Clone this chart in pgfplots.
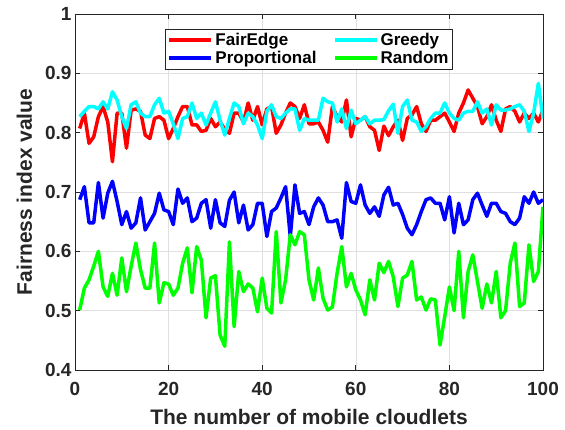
\documentclass[border=0pt]{standalone}
\usepackage{fontspec}
\setmainfont{Liberation Sans}
\usepackage{pgfplots}
\usepackage{pgfplotstable}
\pgfplotsset{compat=1.18}

\definecolor{fered}{RGB}{255,0,0}
\definecolor{grcyan}{RGB}{0,255,255}
\definecolor{prblue}{RGB}{0,0,255}
\definecolor{rdgreen}{RGB}{0,255,0}

% x: number of mobile cloudlets; fe=FairEdge, gr=Greedy, pr=Proportional, rd=Random
\pgfplotstableread{
x   fe    gr    pr    rd
1   0.807 0.827 0.687 0.501
2   0.833 0.836 0.709 0.538
3   0.782 0.844 0.648 0.552
4   0.793 0.844 0.648 0.575
5   0.827 0.840 0.716 0.600
6   0.844 0.852 0.656 0.540
7   0.818 0.840 0.698 0.524
8   0.751 0.869 0.718 0.563
9   0.833 0.855 0.684 0.526
10  0.833 0.827 0.645 0.589
11  0.774 0.807 0.667 0.532
12  0.838 0.847 0.639 0.575
13  0.840 0.852 0.648 0.614
14  0.836 0.833 0.690 0.569
15  0.796 0.827 0.636 0.538
16  0.790 0.827 0.650 0.538
17  0.824 0.847 0.664 0.614
18  0.827 0.858 0.698 0.513
19  0.821 0.833 0.670 0.547
20  0.790 0.836 0.667 0.545
21  0.807 0.815 0.645 0.526
22  0.827 0.790 0.705 0.538
23  0.844 0.824 0.681 0.580
24  0.844 0.827 0.690 0.606
25  0.813 0.850 0.650 0.530
26  0.813 0.824 0.656 0.608
27  0.802 0.833 0.681 0.585
28  0.804 0.813 0.687 0.488
29  0.824 0.833 0.639 0.555
30  0.810 0.852 0.687 0.559
31  0.818 0.821 0.648 0.459
32  0.806 0.796 0.642 0.440
33  0.799 0.824 0.686 0.616
34  0.833 0.850 0.700 0.473
35  0.833 0.844 0.648 0.566
36  0.818 0.815 0.678 0.532
37  0.850 0.833 0.636 0.545
38  0.821 0.827 0.645 0.538
39  0.844 0.813 0.681 0.498
40  0.813 0.790 0.681 0.555
41  0.840 0.836 0.625 0.504
42  0.844 0.847 0.667 0.496
43  0.799 0.827 0.673 0.633
44  0.813 0.824 0.690 0.513
45  0.833 0.833 0.709 0.552
46  0.850 0.840 0.625 0.628
47  0.844 0.840 0.712 0.611
48  0.824 0.804 0.664 0.633
49  0.847 0.824 0.667 0.628
50  0.815 0.821 0.645 0.552
51  0.815 0.821 0.675 0.518
52  0.818 0.821 0.690 0.572
53  0.804 0.858 0.678 0.521
54  0.784 0.852 0.650 0.501
55  0.844 0.850 0.650 0.506
56  0.827 0.818 0.653 0.563
57  0.818 0.840 0.622 0.608
58  0.855 0.807 0.716 0.540
59  0.793 0.838 0.684 0.563
60  0.824 0.815 0.681 0.535
61  0.821 0.821 0.712 0.518
62  0.827 0.827 0.678 0.493
63  0.810 0.815 0.664 0.552
64  0.804 0.821 0.675 0.518
65  0.770 0.821 0.659 0.580
66  0.811 0.822 0.695 0.564
67  0.795 0.837 0.708 0.583
68  0.810 0.848 0.678 0.557
69  0.821 0.799 0.681 0.507
70  0.787 0.844 0.662 0.555
71  0.824 0.855 0.639 0.560
72  0.830 0.821 0.628 0.583
73  0.844 0.818 0.645 0.518
74  0.815 0.802 0.667 0.523
75  0.802 0.810 0.687 0.501
76  0.821 0.824 0.690 0.520
77  0.821 0.833 0.681 0.518
78  0.827 0.833 0.681 0.442
79  0.833 0.850 0.653 0.490
80  0.818 0.833 0.692 0.540
81  0.802 0.824 0.631 0.500
82  0.833 0.821 0.681 0.600
83  0.850 0.833 0.645 0.488
84  0.872 0.836 0.653 0.566
85  0.858 0.836 0.687 0.594
86  0.844 0.852 0.698 0.549
87  0.815 0.833 0.678 0.504
88  0.827 0.840 0.659 0.545
89  0.847 0.813 0.681 0.513
90  0.821 0.847 0.681 0.566
91  0.802 0.838 0.667 0.488
92  0.840 0.838 0.664 0.500
93  0.844 0.840 0.650 0.580
94  0.836 0.844 0.645 0.614
95  0.818 0.847 0.656 0.507
96  0.833 0.836 0.692 0.513
97  0.824 0.802 0.681 0.611
98  0.833 0.833 0.700 0.549
99  0.818 0.883 0.681 0.566
100 0.838 0.824 0.687 0.675
}\data

\begin{document}
\begin{tikzpicture}
\begin{axis}[
    width=468pt, height=356pt, scale only axis,
    xmin=0, xmax=100, ymin=0.4, ymax=1,
    xtick={0,20,...,100},
    ytick={0.4,0.5,...,1.0},
    yticklabel style={/pgf/number format/fixed, /pgf/number format/precision=1},
    xticklabel style={yshift=-9pt},
    /pgf/number format/assume math mode=true,
    tick label style={font=\fontsize{19}{19}\selectfont\bfseries, color=black!85},
    label style={font=\fontsize{21}{24}\selectfont\bfseries, color=black!85},
    xlabel={The number of mobile cloudlets},
    ylabel={Fairness index value},
    xlabel style={at={(axis description cs:0.5,-0.154)}, anchor=base},
    ylabel style={at={(axis description cs:-0.108,0.5)}, anchor=center},
    grid=major,
    major grid style={black!12, line width=0.6pt},
    axis line style={black!85, line width=0.8pt},
    tick style={black!85, line width=0.8pt},
    tick align=inside,
    major tick length=5pt,
    legend columns=2,
    legend cell align=left,
    legend image code/.code={\draw[#1, line width=4pt] (0pt,0pt) -- (42pt,0pt);},
    legend style={
        at={(0.5,0.958)}, anchor=north,
        draw=black!85, line width=0.8pt,
        font=\fontsize{17}{20}\selectfont\bfseries,
        text=black,
        /tikz/every even column/.append style={column sep=14pt},
        inner sep=2pt,
    },
    every axis plot/.append style={line width=3.5pt, line join=round},
]
\addplot[fered]   table[x=x, y=fe] {\data};
\addplot[grcyan]  table[x=x, y=gr] {\data};
\addplot[prblue]  table[x=x, y=pr] {\data};
\addplot[rdgreen] table[x=x, y=rd] {\data};
\legend{FairEdge, Greedy, Proportional, Random}
\end{axis}
\pgfresetboundingbox
\path (current axis.south west) ++(-75pt,-60pt) rectangle ++(565pt,430pt);
\end{tikzpicture}
\end{document}
